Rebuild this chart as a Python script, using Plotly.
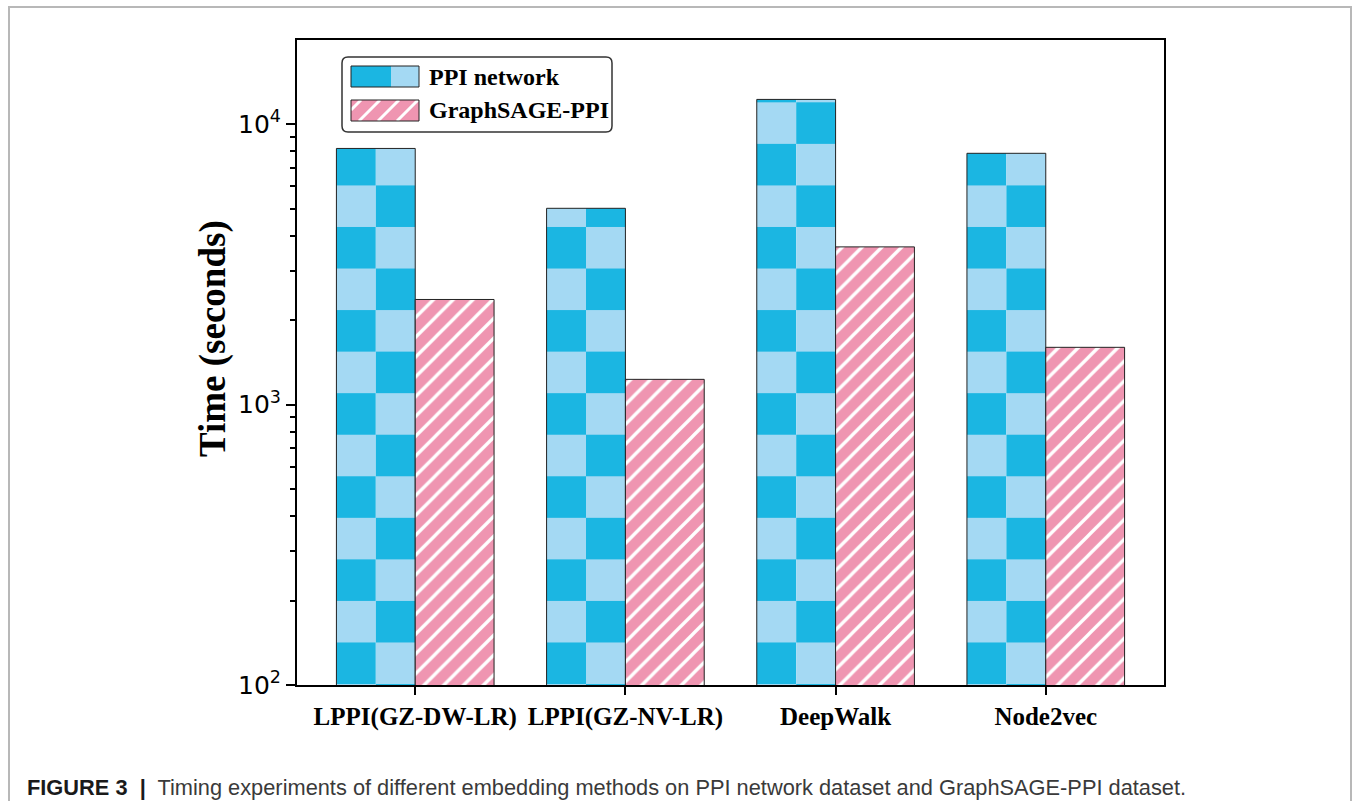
import plotly.graph_objects as go

# ---------------- data ----------------
categories = ["LPPI(GZ-DW-LR)", "LPPI(GZ-NV-LR)", "DeepWalk", "Node2vec"]
ppi_network = [8190, 5010, 12250, 7870]
graphsage_ppi = [2370, 1230, 3650, 1600]
series_names = ["PPI network", "GraphSAGE-PPI"]
ytick_vals = [100, 1000, 10000]
ytick_text = ["10<sup>2</sup>", "10<sup>3</sup>", "10<sup>4</sup>"]
minor_vals = [m * 10 ** e for e in (2, 3, 4) for m in range(2, 10)]
caption = ("<b>FIGURE 3  |</b>  <span style='color:#3a3a3a'>Timing experiments of different embedding "
           "methods on PPI network dataset and GraphSAGE-PPI dataset.</span>")

# ---------------- style ----------------
CYAN = "#1bb6e2"
LIGHT = "#a4d9f3"
PINK = "#ef95b1"
EDGE = "#222222"
BAR_W = 0.375
HALF = BAR_W / 2
CHECK = 83.1
SERIF = "Liberation Serif, Times New Roman, serif"
SANS = "DejaVu Sans, sans-serif"

W, H = 1355, 801
L, R, T, B = 297, 1164, 40, 685


def px(x):
    return (x - L) / (R - L)


def py(y):
    return (B - y) / (B - T)


fig = go.Figure()

# PPI network: checkerboard made of two half-width bars with striped patterns
fig.add_bar(x=categories, y=ppi_network, offset=-BAR_W, width=HALF,
            marker=dict(color=LIGHT, line=dict(width=0),
                        pattern=dict(shape="-", fgcolor=CYAN, bgcolor=LIGHT,
                                     size=CHECK, solidity=0.5, fillmode="replace")),
            name=series_names[0], showlegend=False)
fig.add_bar(x=categories, y=ppi_network, offset=-HALF, width=HALF,
            marker=dict(color=CYAN, line=dict(width=0),
                        pattern=dict(shape="-", fgcolor=LIGHT, bgcolor=CYAN,
                                     size=CHECK, solidity=0.5, fillmode="replace")),
            name=series_names[0], showlegend=False)
fig.add_bar(x=categories, y=ppi_network, offset=-BAR_W, width=BAR_W,
            marker=dict(color="rgba(0,0,0,0)", line=dict(color=EDGE, width=1)),
            name=series_names[0], showlegend=False)

# GraphSAGE-PPI: pink with white diagonal hatch
fig.add_bar(x=categories, y=graphsage_ppi, offset=0, width=BAR_W,
            marker=dict(color=PINK, line=dict(color=EDGE, width=1),
                        pattern=dict(shape="/", fgcolor="white", bgcolor=PINK,
                                     size=14, solidity=0.24, fillmode="replace")),
            name=series_names[1], showlegend=False)

shapes = []
annotations = []

# outer light frame
shapes.append(dict(type="rect", xref="paper", yref="paper",
                   x0=px(9), x1=px(1351), y0=py(815), y1=py(7),
                   line=dict(color="#b8b8b8", width=2), layer="below"))

# custom legend box (rounded)
bx0, bx1, by0, by1 = 342, 612, 57, 132
r = 6
path = (f"M{px(bx0 + r)},{py(by0)} L{px(bx1 - r)},{py(by0)} Q{px(bx1)},{py(by0)} {px(bx1)},{py(by0 + r)} "
        f"L{px(bx1)},{py(by1 - r)} Q{px(bx1)},{py(by1)} {px(bx1 - r)},{py(by1)} "
        f"L{px(bx0 + r)},{py(by1)} Q{px(bx0)},{py(by1)} {px(bx0)},{py(by1 - r)} "
        f"L{px(bx0)},{py(by0 + r)} Q{px(bx0)},{py(by0)} {px(bx0 + r)},{py(by0)} Z")
shapes.append(dict(type="path", xref="paper", yref="paper", path=path,
                   fillcolor="white", line=dict(color="#333333", width=1.5)))

# swatch 1: checker (cyan | light)
sx0, sx1, smid = 351, 419, 391
shapes.append(dict(type="rect", xref="paper", yref="paper", x0=px(sx0), x1=px(smid),
                   y0=py(87), y1=py(66), fillcolor=CYAN, line=dict(width=0)))
shapes.append(dict(type="rect", xref="paper", yref="paper", x0=px(smid), x1=px(sx1),
                   y0=py(87), y1=py(66), fillcolor=LIGHT, line=dict(width=0)))
shapes.append(dict(type="rect", xref="paper", yref="paper", x0=px(sx0), x1=px(sx1),
                   y0=py(87), y1=py(66), line=dict(color=EDGE, width=1)))
# swatch 2: pink hatch
shapes.append(dict(type="rect", xref="paper", yref="paper", x0=px(sx0), x1=px(sx1),
                   y0=py(121), y1=py(100), fillcolor=PINK, line=dict(width=0)))
for xs in (340, 359, 378, 397):
    xa, ya, xb, yb = xs, 121, xs + 21, 100
    if xa < sx0:
        ya -= (sx0 - xa); xa = sx0
    if xb > sx1:
        yb += (xb - sx1); xb = sx1
    shapes.append(dict(type="line", xref="paper", yref="paper", x0=px(xa), y0=py(ya),
                       x1=px(xb), y1=py(yb), line=dict(color="white", width=3)))
shapes.append(dict(type="rect", xref="paper", yref="paper", x0=px(sx0), x1=px(sx1),
                   y0=py(121), y1=py(100), line=dict(color=EDGE, width=1)))

for name, yc in zip(series_names, (77, 110)):
    annotations.append(dict(xref="paper", yref="paper", x=px(427), y=py(yc), xanchor="left",
                            yanchor="middle", text=name, showarrow=False,
                            font=dict(family=SERIF, size=24, color="black", weight="bold")))

# y axis title
annotations.append(dict(xref="paper", yref="paper", x=px(213), y=py(339), xanchor="center",
                        yanchor="middle", text="Time (seconds)", textangle=-90, showarrow=False,
                        font=dict(family=SERIF, size=37, color="black", weight="bold")))
# caption
annotations.append(dict(xref="paper", yref="paper", x=px(25), y=py(787), xanchor="left",
                        yanchor="middle", text=caption, showarrow=False,
                        font=dict(family="Liberation Sans, Arial, sans-serif", size=21.8, color="#1a1a1a")))

fig.update_layout(
    width=W, height=H,
    margin=dict(l=L, r=W - R, t=T, b=H - B, autoexpand=False),
    paper_bgcolor="white", plot_bgcolor="white",
    barmode="overlay", showlegend=False,
    shapes=shapes, annotations=annotations,
    xaxis=dict(range=[-0.5625, 3.5625], showgrid=False, zeroline=False,
               showline=True, linecolor="black", linewidth=2, mirror=True,
               ticks="outside", ticklen=8, tickwidth=2, tickcolor="black",
               tickfont=dict(family=SERIF, size=25, color="black", weight="bold")),
    yaxis=dict(type="log", range=[2, 4.3], showgrid=False, zeroline=False,
               showline=True, linecolor="black", linewidth=2, mirror=True,
               tickvals=ytick_vals, ticktext=ytick_text,
               ticks="outside", ticklen=9, tickwidth=2, tickcolor="black",
               tickfont=dict(family=SANS, size=25, color="black"),
               minor=dict(tickvals=minor_vals, ticks="outside", ticklen=5,
                          tickwidth=1.5, tickcolor="black", showgrid=False)),
)

fig.write_html("out.html", config={"displayModeBar": False},
               post_script="document.body.style.margin='0';document.body.style.overflow='hidden';")
